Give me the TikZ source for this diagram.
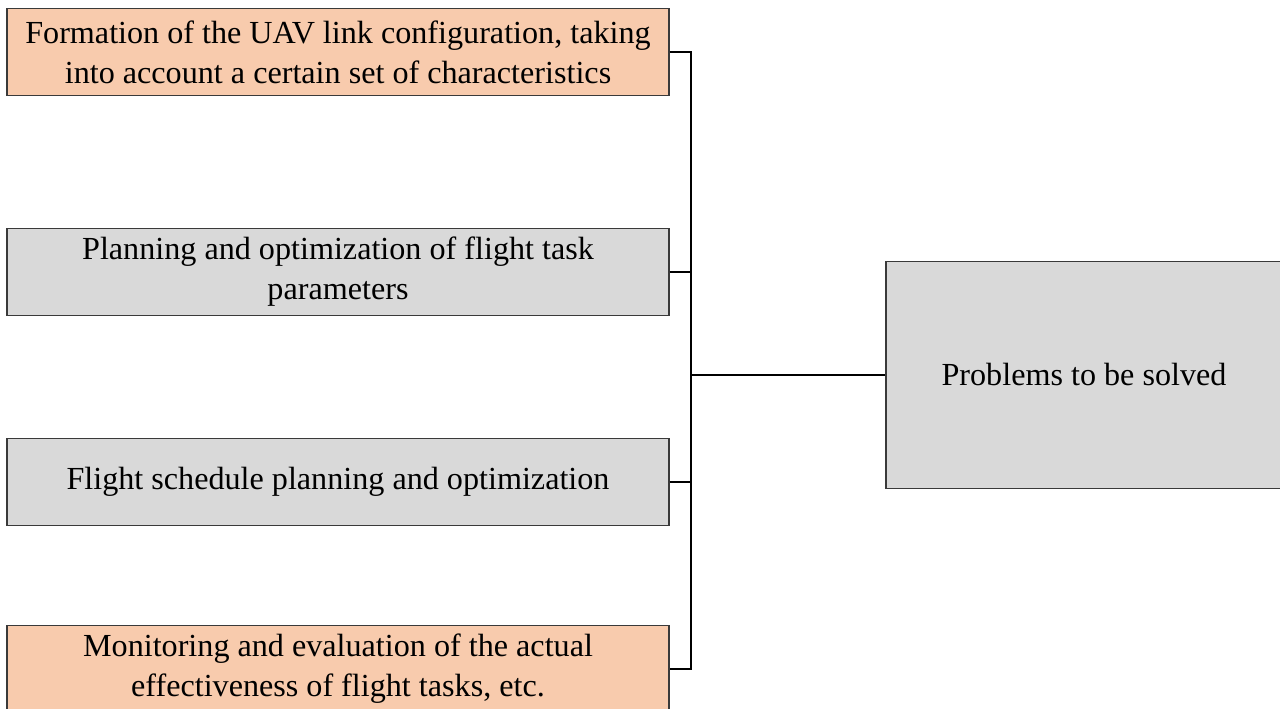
\documentclass[tikz,border=0pt]{standalone}
\usepackage{fontspec}
\setmainfont{Liberation Serif}
\usetikzlibrary{positioning, calc}

\definecolor{taskorange}{HTML}{F8CBAD}
\definecolor{taskgrey}{HTML}{D9D9D9}
\definecolor{edgegrey}{HTML}{3A3A3A}

\begin{document}
\begin{tikzpicture}[
  x=0.02cm, y=-0.02cm,
  taskbox/.style={
    draw=edgegrey, line width=0.7pt,
    font=\fontsize{18.3}{22.8}\selectfont, align=center,
    minimum width=13.24cm, minimum height=1.74cm,
    inner sep=0pt
  },
  goalbox/.style={
    draw=edgegrey, fill=taskgrey, line width=0.7pt,
    font=\fontsize{18.3}{22.8}\selectfont, align=center,
    minimum width=7.92cm, minimum height=4.54cm,
    inner sep=0pt
  },
  link/.style={draw=black, line width=0.85pt}
]
\useasboundingbox (0,0) rectangle (1280,709);

%% left column: tasks
\node[taskbox, fill=taskorange] (formation) at (338,52)
  {Formation of the UAV link configuration, taking\\
   into account a certain set of characteristics};

\node[taskbox, fill=taskgrey] (planning) at (338,272)
  {Planning and optimization of flight task\\
   parameters};

\node[taskbox, fill=taskgrey] (schedule) at (338,482)
  {Flight schedule planning and optimization};

\node[taskbox, fill=taskorange] (monitoring) at (338,669)
  {Monitoring and evaluation of the actual\\
   effectiveness of flight tasks, etc.};

%% right: the overall goal
\node[goalbox] (problems) at (1084,375) {Problems to be solved};

%% bracket joining the tasks
\coordinate (bus) at (691,375);

\draw[link] (formation.east) -- (formation.east -| bus)
  -- (monitoring.east -| bus) -- (monitoring.east);
\draw[link] (planning.east) -- (planning.east -| bus);
\draw[link] (schedule.east) -- (schedule.east -| bus);
\draw[link] (bus) -- (problems.west);

\end{tikzpicture}
\end{document}
